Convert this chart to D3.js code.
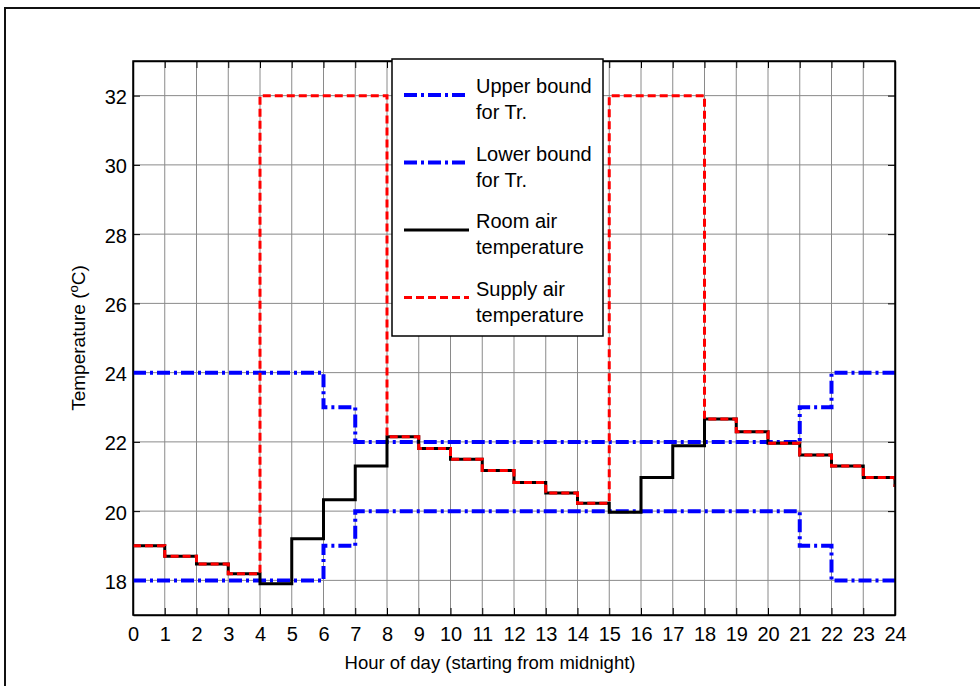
<!DOCTYPE html>
<html>
<head>
<meta charset="utf-8">
<script src="https://cdn.jsdelivr.net/npm/d3@7"></script>
<style>
  body { margin: 0; background: #fff; }
  text { font-family: Arial, "Liberation Sans", sans-serif; fill: #000; }
</style>
</head>
<body>
<script>
// hours 0..24 (value at hour h holds until h+1)
let hours = d3.range(0, 25)
let roomTemp = [19.0, 18.7, 18.47, 18.19, 17.9, 19.2, 20.33, 21.3, 22.15, 21.81, 21.5, 21.17,
  20.83, 20.52, 20.23, 19.97, 20.97, 21.89, 22.66, 22.29, 21.96, 21.62, 21.3, 20.97, 20.7]
let supplyTemp = [19.0, 18.7, 18.47, 18.19, 32, 32, 32, 32, 22.15, 21.81, 21.5, 21.17,
  20.83, 20.52, 20.23, 32, 32, 32, 22.66, 22.29, 21.96, 21.62, 21.3, 20.97, 20.7]
let upperBound = [24, 24, 24, 24, 24, 24, 23, 22, 22, 22, 22, 22,
  22, 22, 22, 22, 22, 22, 22, 22, 22, 23, 24, 24, 24]
let lowerBound = [18, 18, 18, 18, 18, 18, 19, 20, 20, 20, 20, 20,
  20, 20, 20, 20, 20, 20, 20, 20, 20, 19, 18, 18, 18]
let xTicks = d3.range(0, 25)
let yTicks = [18, 20, 22, 24, 26, 28, 30, 32]

let width = 980, height = 686
let margin = { left: 133, top: 61, right: 85, bottom: 71 }
let plotW = width - margin.left - margin.right,
  plotH = height - margin.top - margin.bottom
let tickFont = 20, labelFont = 18.5

let svg = d3.select('body').append('svg')
  .attr('width', width)
  .attr('height', height)

// outer figure frame
svg.append('rect')
  .attr('x', 5).attr('y', 8)
  .attr('width', 990).attr('height', 700)
  .attr('fill', 'none')
  .attr('stroke', '#111')
  .attr('stroke-width', 2)

let x = d3.scaleLinear().domain([0, 24]).range([0, plotW])
let y = d3.scaleLinear().domain([17, 33]).range([plotH, 0])

let g = svg.append('g')
  .attr('transform', `translate(${margin.left},${margin.top})`)

// grid
g.append('g').selectAll('line')
  .data(xTicks.slice(1, -1))
  .enter().append('line')
  .attr('x1', d => x(d)).attr('x2', d => x(d))
  .attr('y1', 0).attr('y2', plotH)
  .attr('stroke', '#8a8a8a').attr('stroke-width', 1)

g.append('g').selectAll('line')
  .data(yTicks)
  .enter().append('line')
  .attr('x1', 0).attr('x2', plotW)
  .attr('y1', d => y(d)).attr('y2', d => y(d))
  .attr('stroke', '#8a8a8a').attr('stroke-width', 1)

// axes with inward ticks
let tickSize = 7
let xAxis = g.append('g')
  .attr('transform', `translate(0,${plotH})`)
  .call(d3.axisBottom(x).tickValues(xTicks).tickSizeInner(-tickSize).tickSizeOuter(0).tickPadding(12))
g.append('g')
  .call(d3.axisTop(x).tickValues(xTicks).tickSizeInner(-tickSize).tickSizeOuter(0).tickFormat(''))
let yAxis = g.append('g')
  .call(d3.axisLeft(y).tickValues(yTicks).tickSizeInner(-tickSize).tickSizeOuter(0).tickPadding(6))
g.append('g')
  .attr('transform', `translate(${plotW},0)`)
  .call(d3.axisRight(y).tickValues(yTicks).tickSizeInner(-tickSize).tickSizeOuter(0).tickFormat(''))

g.selectAll('.domain').attr('stroke', '#000').attr('stroke-width', 1.5)
g.selectAll('.tick line').attr('stroke', '#000')
g.selectAll('.tick text').attr('font-size', tickFont).attr('font-family', 'Arial, "Liberation Sans", sans-serif')
yAxis.selectAll('.tick text').attr('dy', '0.4em')

// series
let clipId = 'plot-clip'
g.append('clipPath').attr('id', clipId)
  .append('rect').attr('width', plotW).attr('height', plotH)

let line = d3.line()
  .x((d, i) => x(hours[i]))
  .y(d => y(d))
  .curve(d3.curveStepAfter)

let series = [
  { name: 'upper', values: upperBound, color: '#0000ff', width: 4, dash: '13,4,3,4' },
  { name: 'lower', values: lowerBound, color: '#0000ff', width: 4, dash: '13,4,3,4' },
  { name: 'room', values: roomTemp, color: '#000', width: 3, dash: null },
  { name: 'supply', values: supplyTemp, color: '#ff0000', width: 3, dash: '8,4' }
]

let lines = g.append('g').attr('clip-path', `url(#${clipId})`)
series.forEach(s => {
  lines.append('path')
    .attr('d', line(s.values))
    .attr('fill', 'none')
    .attr('stroke', s.color)
    .attr('stroke-width', s.width)
    .attr('stroke-dasharray', s.dash)
})

// redraw frame on top
g.append('rect')
  .attr('width', plotW).attr('height', plotH)
  .attr('fill', 'none').attr('stroke', '#000').attr('stroke-width', 1.5)

// legend
let legendItems = [
  { lines: ['Upper bound', 'for Tr.'], s: series[0] },
  { lines: ['Lower bound', 'for Tr.'], s: series[1] },
  { lines: ['Room air', 'temperature'], s: series[2] },
  { lines: ['Supply air', 'temperature'], s: series[3] }
]
let legend = svg.append('g').attr('transform', 'translate(392,59)')
legend.append('rect')
  .attr('width', 211).attr('height', 277)
  .attr('fill', '#fff').attr('stroke', '#000').attr('stroke-width', 1.5)

legendItems.forEach((item, i) => {
  let row = legend.append('g').attr('transform', `translate(0,${36 + i * 67.5})`)
  row.append('line')
    .attr('x1', 12).attr('x2', 77)
    .attr('y1', 0).attr('y2', 0)
    .attr('stroke', item.s.color)
    .attr('stroke-width', item.s.width)
    .attr('stroke-dasharray', item.s.dash)
  item.lines.forEach((t, j) => {
    row.append('text')
      .attr('x', 84).attr('y', -9 + j * 26)
      .attr('dy', '0.35em')
      .attr('font-size', tickFont)
      .text(t)
  })
})

// axis labels
svg.append('text')
  .attr('x', 490).attr('y', 669)
  .attr('text-anchor', 'middle')
  .attr('font-size', labelFont)
  .text('Hour of day (starting from midnight)')

let yl = svg.append('text')
  .attr('transform', `translate(85,${margin.top + plotH / 2}) rotate(-90)`)
  .attr('text-anchor', 'middle')
  .attr('font-size', 19)
yl.append('tspan').text('Temperature (')
yl.append('tspan').attr('font-size', 13).attr('dy', -7).text('o')
yl.append('tspan').attr('dy', 7).text('C)')
</script>
</body>
</html>
